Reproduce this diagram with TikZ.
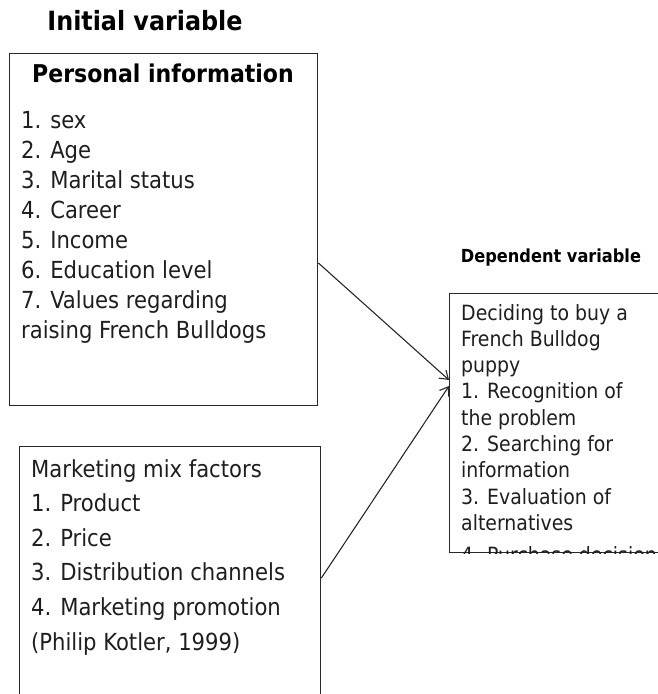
\documentclass[tikz,border=0pt]{standalone}
\usepackage{fontspec}
\setmainfont{DejaVu Sans Condensed}
\usetikzlibrary{positioning,arrows.meta}

\definecolor{inkline}{RGB}{40,40,40}
\definecolor{inktext}{RGB}{30,30,30}

\tikzset{
  box/.style={draw=inkline, line width=1.4pt, inner sep=0pt, anchor=north west},
  heading/.style={font=\bfseries\fontsize{24.5}{28}\selectfont, text=black, anchor=base, inner sep=0pt},
  subheading/.style={font=\bfseries\fontsize{18}{21}\selectfont, text=black, anchor=base, inner sep=0pt},
  entry/.style={font=\fontsize{23.5}{28}\selectfont, text=inktext, anchor=base west, inner sep=0pt},
  smallentry/.style={font=\fontsize{21}{25}\selectfont, text=inktext, anchor=base west, inner sep=0pt},
  link/.style={draw=inkline, line width=1.1pt, -{Straight Barb[length=8pt,width=11pt]}}
}

\begin{document}
\begin{tikzpicture}[x=1pt,y=-1pt]
  \useasboundingbox (0,0) rectangle (658,694);

  % left column
  \node[heading, font=\bfseries\fontsize{26.5}{30}\selectfont] (init) at (145,30) {Initial variable};
  \node[box, minimum width=308pt, minimum height=352pt] (pinfo) at (9,53) {};
  \node[heading] (ptitle) at (163,82) {Personal information};
  \foreach \txt [count=\i from 0] in {1. sex, 2. Age, 3. Marital status, 4. Career,
      5. Income, 6. Education level, 7. Values regarding, raising French Bulldogs}
    \node[entry] (p\i) at (21,128+30*\i) {\txt};

  \node[box, minimum width=301pt, minimum height=260pt] (mix) at (19,446) {};
  \foreach \txt [count=\i from 0] in {Marketing mix factors, 1. Product, 2. Price,
      3. Distribution channels, 4. Marketing promotion, {(Philip Kotler, 1999)}}
    \node[entry] (m\i) at (31,477+34.6*\i) {\txt};

  % right column
  \node[subheading] (dep) at (551,262) {Dependent variable};
  \node[box, minimum width=230pt, minimum height=259pt] (dv) at (449,293) {};
  \begin{scope}
    \clip (dv.north west) rectangle (dv.south east);
    \foreach \txt [count=\i from 0] in {Deciding to buy a, French Bulldog, puppy,
        1. Recognition of, the problem, 2. Searching for, information,
        3. Evaluation of, alternatives}
      \node[smallentry] (d\i) at (461,320+26.3*\i) {\txt};
    % last line runs past the bottom edge
    \node[smallentry] (d9) at (461,562) {4. Purchase decision};
  \end{scope}

  % arrows into the decision box
  \coordinate (from1) at (pinfo.east |- 0,263);
  \coordinate (from2) at (mix.east |- 0,578);
  \coordinate (to1) at (dv.west |- 0,380);
  \coordinate (to2) at (dv.west |- 0,386);
  \draw[link] (from1) -- (to1);
  \draw[link] (from2) -- (to2);
\end{tikzpicture}
\end{document}
